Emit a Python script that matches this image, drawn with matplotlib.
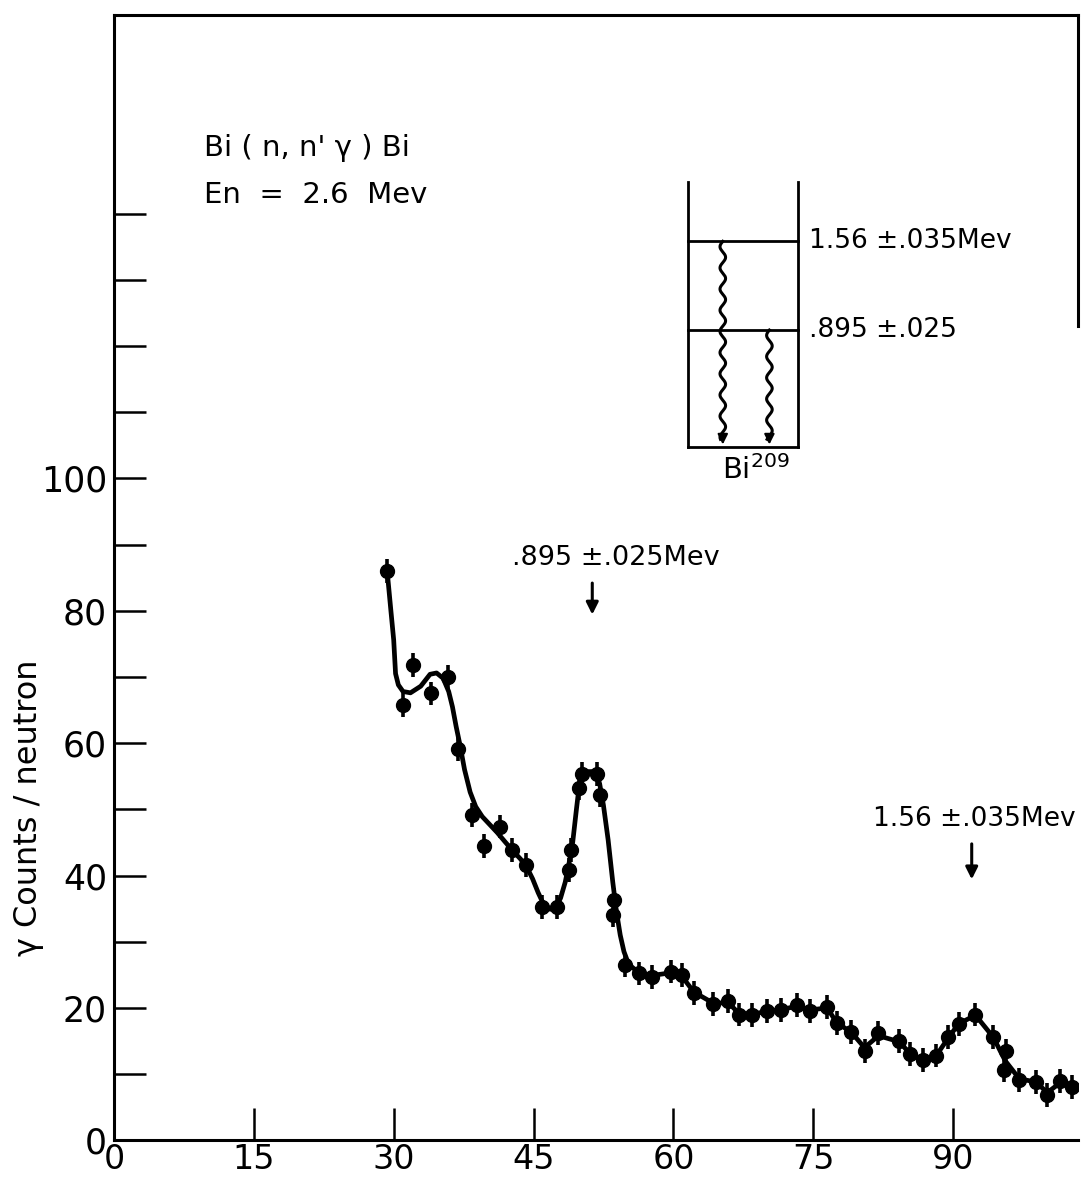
import matplotlib
matplotlib.use('Agg')
import matplotlib.pyplot as plt
import numpy as np

# ---- data ----
channel = [29.3, 31.0, 32.1, 34.0, 35.8, 36.9, 38.4, 39.7, 41.4, 42.7, 44.2,
           45.9, 47.5, 48.8, 49.0, 49.9, 50.2, 51.8, 52.1, 53.6, 53.5, 54.8,
           56.3, 57.7, 59.7, 60.9, 62.2, 64.3, 65.9, 67.0, 68.4, 70.0, 71.5,
           73.3, 74.7, 76.5, 77.5, 79.1, 80.5, 82.0, 84.2, 85.4, 86.8, 88.2,
           89.5, 90.6, 92.4, 94.3, 95.7, 95.5, 97.1, 98.9, 100.1, 101.5, 102.8]
counts = [86.0, 65.8, 71.8, 67.5, 70.0, 59.1, 49.1, 44.4, 47.4, 43.9, 41.6,
          35.3, 35.3, 40.8, 43.8, 53.2, 55.3, 55.3, 52.2, 36.3, 34.0, 26.5,
          25.2, 24.7, 25.5, 25.0, 22.3, 20.6, 21.0, 19.0, 18.9, 19.5, 19.7,
          20.4, 19.5, 20.2, 17.7, 16.4, 13.5, 16.2, 15.0, 13.0, 12.1, 12.8,
          15.6, 17.6, 19.0, 15.6, 13.5, 10.6, 9.1, 8.8, 6.9, 8.9, 8.1]
count_err = 1.8

fit_channel = [29.3, 29.7, 30.0, 30.2, 30.5, 31.0, 31.8, 32.9, 33.9, 34.6, 35.3,
               35.9, 36.3, 36.7, 37.1, 37.6, 38.2, 38.8, 39.5, 40.3, 41.1, 42.0,
               42.8, 43.6, 44.3, 44.9, 45.5, 46.1, 46.8, 47.4, 47.9, 48.4, 48.8,
               49.2, 49.6, 49.9, 50.2, 50.6, 51.4, 51.8, 52.1, 52.5, 53.0, 53.5,
               53.9, 54.3, 54.7, 55.2, 56.3, 57.7, 59.7, 60.9, 62.2, 64.3, 65.9,
               67.0, 68.4, 70.0, 71.5, 73.3, 74.7, 76.5, 77.5, 79.1, 80.5, 82.0,
               84.2, 85.4, 86.8, 88.2, 89.5, 90.6, 92.4, 94.3, 95.6, 97.1, 98.9,
               100.1, 101.5, 102.8]
fit_counts = [86.0, 80.0, 75.6, 70.5, 68.8, 67.8, 67.6, 68.6, 70.4, 70.6, 69.8,
              67.8, 65.5, 62.5, 59.8, 56.0, 52.6, 50.4, 48.9, 47.7, 46.5, 45.0,
              43.7, 42.5, 41.2, 39.5, 37.4, 35.6, 34.9, 35.2, 36.6, 39.0, 41.8,
              45.0, 50.0, 53.6, 55.3, 55.7, 55.7, 55.4, 53.8, 50.6, 45.4, 39.0,
              34.5, 31.0, 28.5, 26.6, 25.3, 24.9, 25.3, 24.8, 22.4, 20.7, 20.8,
              19.2, 19.0, 19.5, 19.7, 20.3, 19.7, 20.0, 17.8, 16.3, 14.0, 15.8,
              14.9, 13.1, 12.2, 12.8, 15.5, 17.6, 18.9, 15.6, 12.0, 9.3, 8.8,
              7.2, 8.7, 8.2]

x_ticks = [0, 15, 30, 45, 60, 75, 90]
x_labels = ['0', '15', '30', '45', '60', '75', '90']
y_major = [0, 20, 40, 60, 80, 100]
y_labels = ['0', '20', '40', '60', '80', '100']
y_minor = [10, 30, 50, 70, 90, 110, 120, 130, 140]

# ---- figure ----
W, H = 1081, 1181
fig = plt.figure(figsize=(W / 100, H / 100), dpi=100)
x0, x1 = 114, 1078
y_top, y_bot = 15, 1140.3
ax = fig.add_axes([x0 / W, 1 - y_bot / H, (x1 - x0) / W, (y_bot - y_top) / H])

ax.plot(fit_channel, fit_counts, color='k', lw=3.4,
        solid_joinstyle='round', solid_capstyle='round', zorder=2)
ax.errorbar(channel, counts, yerr=count_err, fmt='o', color='k', ms=10,
            elinewidth=2.6, capsize=0, zorder=3)

ax.set_xlim(0, 103.4)
ax.set_ylim(0, 170)
ax.set_xticks(x_ticks)
ax.set_xticklabels(x_labels)
ax.set_yticks(y_major)
ax.set_yticklabels(y_labels)
ax.set_yticks(y_minor, minor=True)
ax.tick_params(which='both', direction='in', length=23, width=1.8, color='k')
ax.tick_params(axis='x', labelsize=24, pad=2)
ax.tick_params(axis='y', labelsize=25, pad=5)
for s in ax.spines.values():
    s.set_linewidth(2.2)
ax.spines['right'].set_bounds(123, 170)

ax.set_ylabel('γ Counts / neutron', fontsize=23)
ax.yaxis.set_label_coords((29 - x0) / (x1 - x0), (y_bot - 808) / (y_bot - y_top))
ax.yaxis.label.set_va('center')

# ---- titles ----
ax.text(9.7, 149.9, "Bi ( n, n' γ ) Bi", fontsize=21, ha='left', va='center')
ax.text(9.7, 142.8, "En  =  2.6  Mev", fontsize=21, ha='left', va='center')

# ---- level diagram ----
lx, rx = 61.6, 73.4
ax.plot([lx, lx], [104.7, 144.8], color='k', lw=2.0)
ax.plot([rx, rx], [104.7, 144.8], color='k', lw=2.0)
for lev in (135.8, 122.4, 104.7):
    ax.plot([lx, rx], [lev, lev], color='k', lw=2.0)


def wavy(xc, ytop, ybot):
    yy = np.linspace(ytop, ybot + 1.2, 200)
    xx = xc + 0.3 * np.sin((yy - ytop) / 3.2 * 2 * np.pi)
    ax.plot(xx, yy, color='k', lw=2.2)
    ax.annotate('', xy=(xc, ybot), xytext=(xc, ybot + 1.8),
                arrowprops=dict(arrowstyle='-|>', color='k', lw=1.5,
                                mutation_scale=15))


wavy(65.3, 135.8, 104.7)
wavy(70.3, 122.4, 104.7)

ax.text(74.6, 135.8, "1.56 ±.035Mev", fontsize=19, ha='left', va='center')
ax.text(74.6, 122.4, ".895 ±.025", fontsize=19, ha='left', va='center')
ax.text(68.8, 101.3, r"Bi$^{\mathregular{209}}$", fontsize=21, ha='center', va='center')

# ---- peak annotations ----
ax.text(53.8, 88.0, ".895 ±.025Mev", fontsize=19.5, ha='center', va='center')
ax.annotate('', xy=(51.3, 79.0), xytext=(51.3, 84.6),
            arrowprops=dict(arrowstyle='-|>', color='k', lw=2.2, mutation_scale=18))
ax.text(92.3, 48.5, "1.56 ±.035Mev", fontsize=19, ha='center', va='center')
ax.annotate('', xy=(92.0, 39.0), xytext=(92.0, 45.2),
            arrowprops=dict(arrowstyle='-|>', color='k', lw=2.2, mutation_scale=18))

fig.savefig('out.png', dpi=100, facecolor='white')
